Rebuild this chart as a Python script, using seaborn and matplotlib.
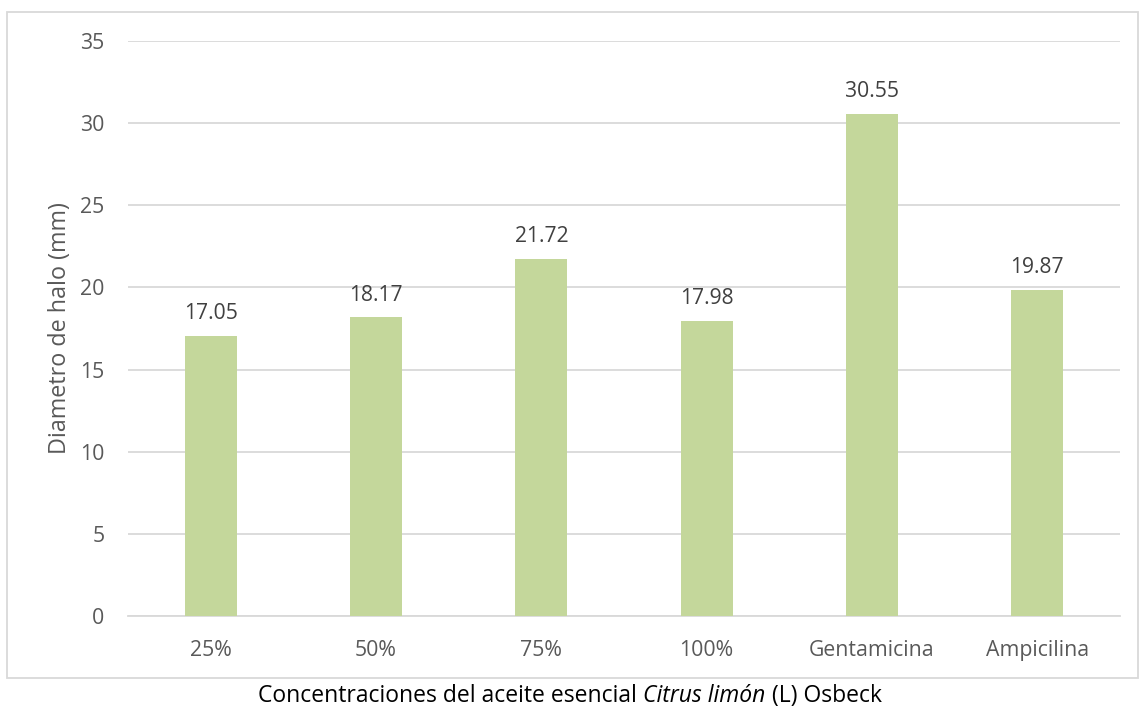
import matplotlib
matplotlib.use("Agg")
import matplotlib.pyplot as plt
import seaborn as sns
import pandas as pd
from matplotlib.patches import Rectangle

categories = ["25%", "50%", "75%", "100%", "Gentamicina", "Ampicilina"]
values = [17.05, 18.17, 21.72, 17.98, 30.55, 19.87]
yticks = [0, 5, 10, 15, 20, 25, 30, 35]
ylabel = "Diametro de halo (mm)"
xlabel_parts = ["Concentraciones del aceite esencial ", "Citrus limón", " (L) Osbeck"]

sns.set_theme(style="white")
plt.rcParams['font.family'] = ['Open Sans', 'DejaVu Sans']

df = pd.DataFrame({"cat": categories, "val": values})

fig = plt.figure(figsize=(11.4, 7.07), dpi=100)
ax = fig.add_axes([128/1140, 1-616/707, (1120-128)/1140, (616-41)/707])

sns.barplot(data=df, x="cat", y="val", color="#C4D79B", width=0.315, ax=ax,
            saturation=1, edgecolor="none", zorder=3)

ax.set_ylim(0, 35)
ax.set_xlim(-0.5, 5.5)
ax.set_yticks(yticks)
ax.yaxis.grid(True, color="#D9D9D9", linewidth=1.3, zorder=0)
ax.set_axisbelow(True)
for s in ["top", "right", "left"]:
    ax.spines[s].set_visible(False)
ax.spines["bottom"].set_color("#D9D9D9")
ax.spines["bottom"].set_linewidth(1.3)
ax.tick_params(axis="both", length=0, labelsize=15.3, colors="#595959")
ax.tick_params(axis="y", pad=17)
ax.tick_params(axis="x", pad=17)
ax.set_xlabel("")
ax.set_ylabel(ylabel, fontsize=16.8, color="#595959", labelpad=6)

for i, v in enumerate(values):
    ax.annotate(f"{v:.2f}", (i, v), xytext=(0, 8.5), textcoords="offset points",
                ha="center", va="bottom", fontsize=15.2, color="#404040")

# chart border
fig.patches.append(Rectangle((7/1140, 1-678/707), (1138-7)/1140, (678-12)/707,
                             transform=fig.transFigure, fill=False,
                             edgecolor="#D9D9D9", linewidth=1.3))

# x label with italic part
fig.canvas.draw()
renderer = fig.canvas.get_renderer()
styles = ["normal", "italic", "normal"]
texts = []
for p, st in zip(xlabel_parts, styles):
    t = fig.text(0, 1-702/707, p, fontsize=16.5, color="black", style=st,
                 ha="left", va="baseline")
    texts.append(t)
widths = [t.get_window_extent(renderer).width for t in texts]
total = sum(widths)
x0 = 570 - total/2
for t, w in zip(texts, widths):
    t.set_x(x0/1140)
    x0 += w

fig.savefig("out.png", dpi=100)
